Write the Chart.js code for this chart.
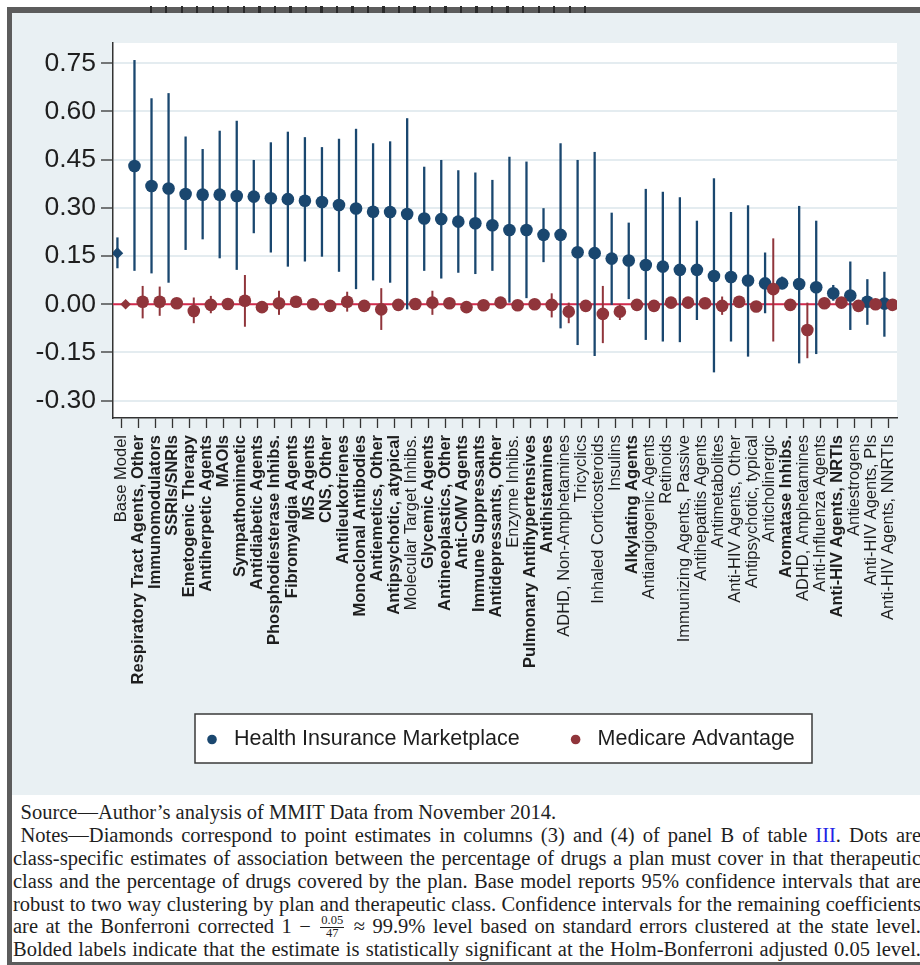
<!DOCTYPE html>
<html>
<head>
<meta charset="utf-8">
<script src="https://cdn.jsdelivr.net/npm/chart.js@4.4.1/dist/chart.umd.min.js"></script>
<style>
  html, body { margin: 0; padding: 0; }
  body { width: 920px; height: 965px; overflow: hidden; background: #fff; position: relative;
         font-family: "Liberation Sans", Arial, sans-serif; }
  #bandTop { position: absolute; left: 7px; top: 7px; width: 913px; height: 6px; background: #5c5c5c; }
  #ticksTop { position: absolute; left: 150px; top: 6px; width: 436px; height: 7px;
              background: repeating-linear-gradient(90deg, #2a2a2a 0 2px, transparent 2px 15.5px); }
  #bandLeft { position: absolute; left: 7px; top: 7px; width: 5px; height: 958px; background: #5c5c5c; }
  #bandBottom { position: absolute; left: 7px; top: 962px; width: 913px; height: 3px; background: #5c5c5c; }
  #panel { position: absolute; left: 12px; top: 13px; width: 908px; height: 782px; background: #e9f0f3; }
  #chart { display: block; }
  #notes { position: absolute; left: 13px; top: 801px; width: 908px;
           font-family: "Liberation Serif", "Times New Roman", serif; font-size: 20.5px; color: #1e1e1e; }
  .ln { height: 22.9px; line-height: 22.9px; white-space: nowrap; }
  .j { text-align: justify; text-align-last: justify; }
  .ind { padding-left: 7.5px; }
  .ref { color: #2222e6; }
  .frac { display: inline-block; vertical-align: middle; text-align: center; text-align-last: center;
          font-size: 12.5px; line-height: 10.5px; margin: 0 2px; position: relative; top: -2px; }
  .frac span { display: block; }
  .frac .num { border-bottom: 1px solid #1e1e1e; padding: 0 1px 1px; }
</style>
</head>
<body>
<div id="bandTop"></div>
<div id="ticksTop"></div>
<div id="bandLeft"></div>
<div id="bandBottom"></div>
<div id="panel"><canvas id="chart" width="908" height="782"></canvas></div>
<div id="notes">
  <div class="ln ind">Source—Author’s analysis of MMIT Data from November 2014.</div>
  <div class="ln ind j">Notes—Diamonds correspond to point estimates in columns (3) and (4) of panel B of table <span class="ref">III</span>. Dots are</div>
  <div class="ln j">class-specific estimates of association between the percentage of drugs a plan must cover in that therapeutic</div>
  <div class="ln j">class and the percentage of drugs covered by the plan. Base model reports 95% confidence intervals that are</div>
  <div class="ln j">robust to two way clustering by plan and therapeutic class. Confidence intervals for the remaining coefficients</div>
  <div class="ln j">are at the Bonferroni corrected 1 − <span class="frac"><span class="num">0.05</span><span>47</span></span> ≈ 99.9% level based on standard errors clustered at the state level.</div>
  <div class="ln j">Bolded labels indicate that the estimate is statistically significant at the Holm-Bonferroni adjusted 0.05 level.</div>
</div>
<script>
// Therapeutic classes, in plotted order
const categories = [
  'Base Model', 'Respiratory Tract Agents, Other', 'Immunomodulators', 'SSRIs/SNRIs',
  'Emetogenic Therapy', 'Antiherpetic Agents', 'MAOIs', 'Sympathomimetic',
  'Antidiabetic Agents', 'Phosphodiesterase Inhibs.', 'Fibromyalgia Agents', 'MS Agents',
  'CNS, Other', 'Antileukotrienes', 'Monoclonal Antibodies', 'Antiemetics, Other',
  'Antipsychotic, atypical', 'Molecular Target Inhibs.', 'Glycemic Agents', 'Antineoplastics, Other',
  'Anti-CMV Agents', 'Immune Suppressants', 'Antidepressants, Other', 'Enzyme Inhibs.',
  'Pulmonary Antihypertensives', 'Antihistamines', 'ADHD, Non-Amphetamines', 'Tricyclics',
  'Inhaled Corticosteroids', 'Insulins', 'Alkylating Agents', 'Antiangiogenic Agents',
  'Retinoids', 'Immunizing Agents, Passive', 'Antihepatitis Agents', 'Antimetabolites',
  'Anti-HIV Agents, Other', 'Antipsychotic, typical', 'Anticholinergic', 'Aromatase Inhibs.',
  'ADHD, Amphetamines', 'Anti-Influenza Agents', 'Anti-HIV Agents, NRTIs', 'Antiestrogens',
  'Anti-HIV Agents, PIs', 'Anti-HIV Agents, NNRTIs'
];

// 1 = significant at the Holm-Bonferroni adjusted level (label set in bold)
const boldLabel = [
  0, 1, 1, 1, 1, 1, 1, 1, 1, 1, 1, 1, 1, 1, 1, 1, 1, 0, 1, 1, 1, 1, 1, 0,
  1, 1, 0, 0, 0, 0, 1, 0, 0, 0, 0, 0, 0, 0, 0, 1, 0, 0, 1, 0, 0, 0
];

const seriesNames = ['Health Insurance Marketplace', 'Medicare Advantage'];

// Health Insurance Marketplace: estimate and interval bounds
const marketplaceEst = [
  0.159, 0.430, 0.368, 0.360, 0.343, 0.341, 0.341, 0.337, 0.335, 0.330, 0.327, 0.322,
  0.318, 0.309, 0.298, 0.288, 0.287, 0.281, 0.267, 0.265, 0.257, 0.252, 0.246, 0.231,
  0.231, 0.216, 0.216, 0.162, 0.159, 0.142, 0.136, 0.122, 0.117, 0.107, 0.107, 0.088,
  0.085, 0.074, 0.065, 0.065, 0.063, 0.053, 0.034, 0.027, 0.008, 0.002
];
const marketplaceLow = [
  0.112, 0.104, 0.096, 0.067, 0.169, 0.202, 0.143, 0.107, 0.221, 0.161, 0.117, 0.133,
  0.148, 0.101, 0.047, 0.074, 0.067, -0.016, 0.104, 0.080, 0.098, 0.094, 0.104, 0.005,
  0.019, 0.131, -0.075, -0.127, -0.161, -0.002, 0.016, -0.111, -0.116, -0.118, -0.049, -0.212,
  -0.116, -0.163, -0.028, 0.047, -0.184, -0.155, 0.011, -0.080, -0.064, -0.101
];
const marketplaceHigh = [
  0.208, 0.760, 0.641, 0.657, 0.522, 0.483, 0.540, 0.571, 0.449, 0.504, 0.537, 0.520,
  0.489, 0.515, 0.546, 0.501, 0.507, 0.579, 0.428, 0.449, 0.417, 0.410, 0.387, 0.459,
  0.444, 0.299, 0.501, 0.449, 0.474, 0.285, 0.254, 0.359, 0.350, 0.333, 0.260, 0.392,
  0.287, 0.308, 0.161, 0.086, 0.306, 0.260, 0.060, 0.133, 0.078, 0.101
];

// Medicare Advantage: estimate and interval bounds
const medicareEst = [
  0.000, 0.008, 0.008, 0.003, -0.021, -0.002, 0.001, 0.011, -0.009, 0.003, 0.008, 0.000,
  -0.005, 0.008, -0.005, -0.016, -0.002, 0.001, 0.005, 0.003, -0.009, -0.003, 0.005, -0.003,
  0.000, -0.002, -0.023, -0.005, -0.030, -0.023, -0.002, -0.005, 0.005, 0.005, 0.003, -0.005,
  0.008, -0.007, 0.047, -0.002, -0.080, 0.003, 0.005, -0.005, 0.000, -0.002
];
const medicareLow = [
  -0.008, -0.044, -0.036, -0.012, -0.059, -0.028, -0.014, -0.070, -0.022, -0.033, -0.006, -0.013,
  -0.018, -0.023, -0.018, -0.080, -0.015, -0.012, -0.033, -0.010, -0.027, -0.016, -0.008, -0.016,
  -0.013, -0.041, -0.059, -0.018, -0.121, -0.049, -0.015, -0.018, -0.008, -0.008, -0.010, -0.033,
  -0.012, -0.020, -0.116, -0.015, -0.168, -0.010, -0.008, -0.018, -0.013, -0.015
];
const medicareHigh = [
  0.008, 0.057, 0.055, 0.018, 0.021, 0.026, 0.016, 0.091, 0.004, 0.042, 0.022, 0.013,
  0.008, 0.039, 0.008, 0.050, 0.011, 0.014, 0.042, 0.016, 0.008, 0.010, 0.018, 0.010,
  0.013, 0.034, 0.005, 0.008, 0.057, 0.000, 0.011, 0.008, 0.018, 0.018, 0.016, 0.024,
  0.024, 0.006, 0.205, 0.011, 0.005, 0.016, 0.018, 0.008, 0.013, 0.011
];

const yTickValues = [-0.30, -0.15, 0.00, 0.15, 0.30, 0.45, 0.60, 0.75];

const NAVY = '#1a476f';
const MAROON = '#90353b';
const DODGE = 0.24;            // horizontal offset of the two series around each class
const SANS = '"Liberation Sans", Arial, sans-serif';

Chart.defaults.font.family = SANS;

// White plot region on top of the tinted graph region
const plotBackground = {
  id: 'plotBackground',
  beforeDraw(chart) {
    const { ctx, chartArea: a } = chart;
    ctx.save();
    ctx.fillStyle = '#ffffff';
    ctx.fillRect(a.left, a.top, a.right - a.left, a.bottom - a.top);
    ctx.restore();
  }
};

// Reference line at zero
const zeroLine = {
  id: 'zeroLine',
  beforeDatasetsDraw(chart) {
    const { ctx, chartArea: a, scales: { y } } = chart;
    const py = y.getPixelForValue(0);
    ctx.save();
    ctx.strokeStyle = '#d42a4c';
    ctx.lineWidth = 1.8;
    ctx.beginPath();
    ctx.moveTo(a.left, py);
    ctx.lineTo(a.right, py);
    ctx.stroke();
    ctx.restore();
  }
};

// Confidence intervals, drawn under each series' markers
const intervals = {
  id: 'intervals',
  beforeDatasetDraw(chart, args) {
    const ds = chart.data.datasets[args.index];
    const { ctx, scales: { x, y } } = chart;
    ctx.save();
    ctx.strokeStyle = ds.backgroundColor;
    ctx.lineWidth = ds.ciWidth;
    ds.data.forEach((p, i) => {
      const px = x.getPixelForValue(p.x);
      ctx.beginPath();
      ctx.moveTo(px, y.getPixelForValue(ds.ciLow[i]));
      ctx.lineTo(px, y.getPixelForValue(ds.ciHigh[i]));
      ctx.stroke();
    });
    ctx.restore();
  }
};

// Framed legend under the axis labels
const boxedLegend = {
  id: 'boxedLegend',
  afterDraw(chart) {
    const { ctx, chartArea: a } = chart;
    const left = 183, top = a.bottom + 296, w = 617, h = 49;
    ctx.save();
    ctx.fillStyle = '#ffffff';
    ctx.fillRect(left, top, w, h);
    ctx.strokeStyle = '#3a3a3a';
    ctx.lineWidth = 1.5;
    ctx.strokeRect(left, top, w, h);
    ctx.font = '21.5px ' + SANS;
    ctx.textBaseline = 'middle';
    const cy = top + h / 2 + 1;
    let x = left + 17;
    chart.data.datasets.forEach(ds => {
      ctx.fillStyle = ds.backgroundColor;
      ctx.beginPath();
      ctx.arc(x, cy, 4.8, 0, Math.PI * 2);
      ctx.fill();
      ctx.fillStyle = '#1e1e1e';
      ctx.fillText(ds.label, x + 22, cy);
      x += 22 + ctx.measureText(ds.label).width + 56;
    });
    ctx.restore();
  }
};

new Chart(document.getElementById('chart'), {
  type: 'scatter',
  data: {
    datasets: [
      {
        label: seriesNames[0],
        data: marketplaceEst.map((v, i) => ({ x: i - DODGE, y: v })),
        ciLow: marketplaceLow,
        ciHigh: marketplaceHigh,
        ciWidth: 2.3,
        backgroundColor: NAVY,
        borderColor: NAVY,
        order: 2,
        pointStyle: c => (c.dataIndex === 0 ? 'rectRot' : 'circle'),
        pointRadius: c => (c.dataIndex === 0 ? 5.8 : 6.3),
        pointBorderWidth: 0
      },
      {
        label: seriesNames[1],
        data: medicareEst.map((v, i) => ({ x: i + DODGE, y: v })),
        ciLow: medicareLow,
        ciHigh: medicareHigh,
        ciWidth: 2,
        backgroundColor: MAROON,
        borderColor: MAROON,
        order: 1,
        pointStyle: c => (c.dataIndex === 0 ? 'rectRot' : 'circle'),
        pointRadius: c => (c.dataIndex === 0 ? 5.3 : 6.3),
        pointBorderWidth: 0
      }
    ]
  },
  options: {
    responsive: false,
    animation: false,
    devicePixelRatio: 1,
    layout: { padding: { left: 0, top: 30, right: 23, bottom: 87 } },
    plugins: { legend: { display: false }, tooltip: { enabled: false } },
    scales: {
      x: {
        type: 'linear',
        bounds: 'data',
        min: -0.5,
        max: categories.length - 0.5,
        afterBuildTicks: s => { s.ticks = categories.map((_, i) => ({ value: i })); },
        afterFit: s => { s.height = 290; },
        grid: { drawOnChartArea: false, drawTicks: true, tickLength: 10, tickColor: '#333', tickWidth: 1.3 },
        border: { display: true, color: '#333', width: 1.5 },
        ticks: {
          autoSkip: false,
          minRotation: 90,
          maxRotation: 90,
          padding: 7,
          color: '#1e1e1e',
          font: c => ({ family: SANS, size: 16.5, weight: boldLabel[c.index] ? 'bold' : 'normal' }),
          callback: v => categories[v]
        }
      },
      y: {
        type: 'linear',
        bounds: 'data',
        min: -0.354,
        max: 0.813,
        afterBuildTicks: s => { s.ticks = yTickValues.map(v => ({ value: v })); },
        afterFit: s => { s.width = 101; },
        grid: { color: '#e4ecf0', lineWidth: 2, tickColor: '#333', tickLength: 12, tickWidth: 1.3 },
        border: { display: true, color: '#333', width: 1.5 },
        ticks: {
          padding: 5,
          color: '#1e1e1e',
          font: { family: SANS, size: 26.5 },
          callback: v => v.toFixed(2)
        }
      }
    }
  },
  plugins: [plotBackground, zeroLine, intervals, boxedLegend]
});
</script>
</body>
</html>
